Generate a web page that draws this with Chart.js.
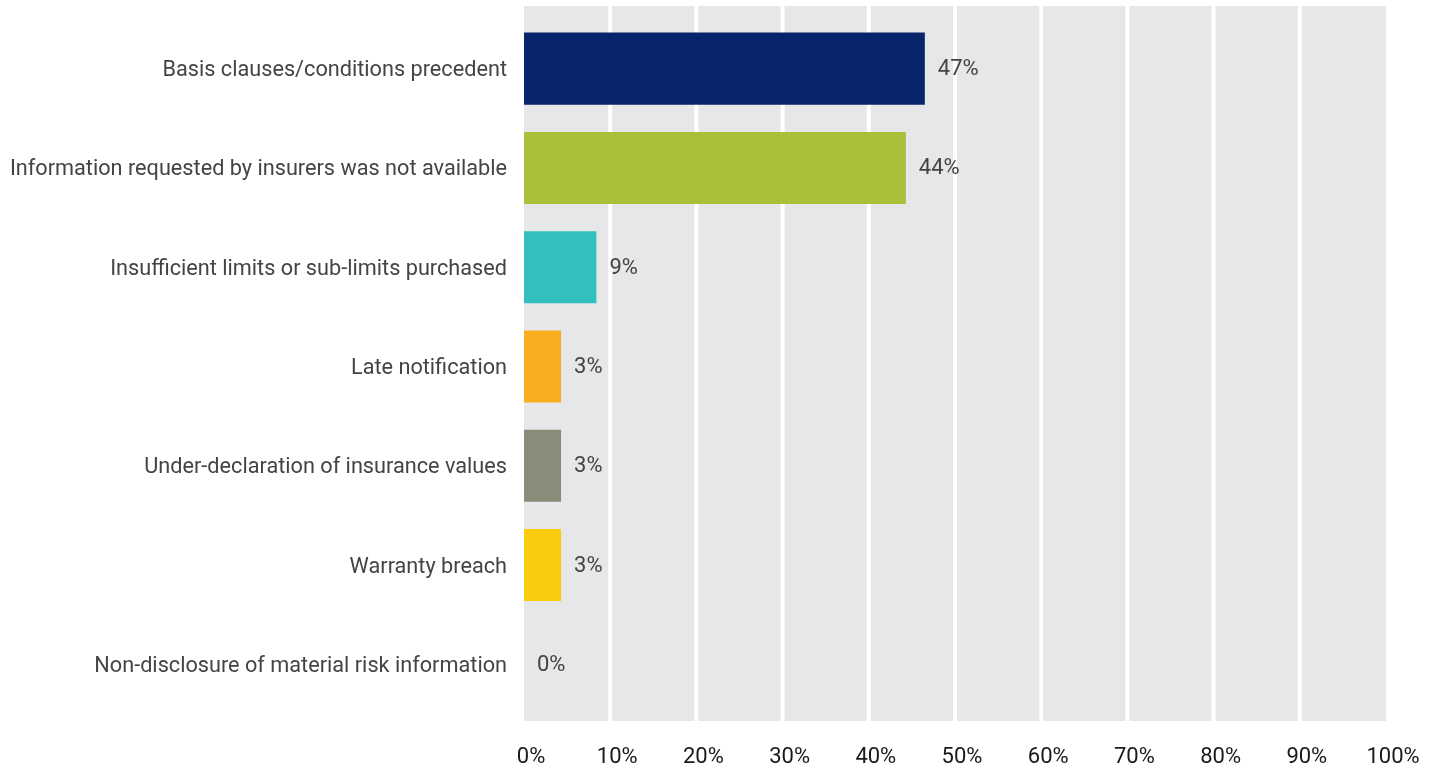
<!DOCTYPE html>
<html>
<head>
<meta charset="utf-8">
<script src="https://cdn.jsdelivr.net/npm/chart.js@4"></script>
<style>
  html, body { margin: 0; padding: 0; background: #fff; }
  #wrap { width: 1439px; height: 770px; }
</style>
</head>
<body>
<div id="wrap"><canvas id="barChart" width="1439" height="770"></canvas></div>
<script>
/*******************************************************
 * DATA
 *******************************************************/
const categories = [
  "Basis clauses/conditions precedent",
  "Information requested by insurers was not available",
  "Insufficient limits or sub-limits purchased",
  "Late notification",
  "Under-declaration of insurance values",
  "Warranty breach",
  "Non-disclosure of material risk information"
];
// bar lengths (percent)
const barValues = [46.5, 44.3, 8.4, 4.3, 4.3, 4.3, 0];
// labels printed next to each bar
const valueLabels = ["47%", "44%", "9%", "3%", "3%", "3%", "0%"];
const barColors = ["#08246a", "#a8c03a", "#33bfbf", "#f9ad20", "#8a8b78", "#facc10", "#cccccc"];
const xTicks = [0, 10, 20, 30, 40, 50, 60, 70, 80, 90, 100];

const FONT = "Roboto, 'Liberation Sans', sans-serif";

/*******************************************************
 * PLUGINS
 *******************************************************/
// grey panel with white vertical rules behind the bars
const panelPlugin = {
  id: "panel",
  beforeDatasetsDraw(chart) {
    const { ctx, chartArea, scales } = chart;
    const top = chartArea.top - 13;
    const bottom = chartArea.bottom + 7;
    ctx.save();
    ctx.fillStyle = "#e6e7e9";
    ctx.fillRect(chartArea.left, top, chartArea.right - chartArea.left, bottom - top);
    ctx.strokeStyle = "#ffffff";
    ctx.lineWidth = 4;
    xTicks.slice(1, -1).forEach(v => {
      const x = scales.x.getPixelForValue(v);
      ctx.beginPath();
      ctx.moveTo(x, top);
      ctx.lineTo(x, bottom);
      ctx.stroke();
    });
    ctx.restore();
  }
};

// percentage text after each bar
const valueLabelPlugin = {
  id: "valueLabels",
  afterDatasetsDraw(chart) {
    const { ctx } = chart;
    const meta = chart.getDatasetMeta(0);
    ctx.save();
    ctx.font = "22px " + FONT;
    ctx.fillStyle = "#444444";
    ctx.textAlign = "left";
    ctx.textBaseline = "middle";
    meta.data.forEach((bar, i) => {
      ctx.fillText(valueLabels[i], bar.x + 13, bar.y + 1);
    });
    ctx.restore();
  }
};

/*******************************************************
 * CHART
 *******************************************************/
const ctx = document.getElementById("barChart").getContext("2d");

new Chart(ctx, {
  type: "bar",
  data: {
    labels: categories,
    datasets: [
      {
        data: barValues,
        backgroundColor: barColors,
        borderWidth: 0,
        categoryPercentage: 1,
        barPercentage: 0.726
      }
    ]
  },
  options: {
    indexAxis: "y",
    responsive: false,
    animation: false,
    layout: {
      padding: { top: 19, right: 53, bottom: 0, left: 0 }
    },
    scales: {
      x: {
        min: 0,
        max: 100,
        border: { display: false },
        grid: { display: false, drawTicks: false },
        afterFit: s => {
          s.height = 56;
          s.paddingLeft = 0;
          s.paddingRight = 0;
        },
        afterBuildTicks: s => { s.ticks = xTicks.map(v => ({ value: v })); },
        ticks: {
          autoSkip: false,
          maxRotation: 0,
          padding: 30,
          labelOffset: 7,
          color: "#1a1a1a",
          font: { family: FONT, size: 22 },
          callback: v => v + "%"
        }
      },
      y: {
        border: { display: false },
        grid: { display: false, drawTicks: false },
        afterFit: s => {
          s.width = 524;
          s.paddingTop = 0;
          s.paddingBottom = 0;
        },
        ticks: {
          padding: 17,
          labelOffset: 2,
          color: "#444444",
          font: { family: FONT, size: 21.7 }
        }
      }
    },
    plugins: {
      legend: { display: false },
      tooltip: { enabled: false }
    }
  },
  plugins: [panelPlugin, valueLabelPlugin]
});
</script>
</body>
</html>
